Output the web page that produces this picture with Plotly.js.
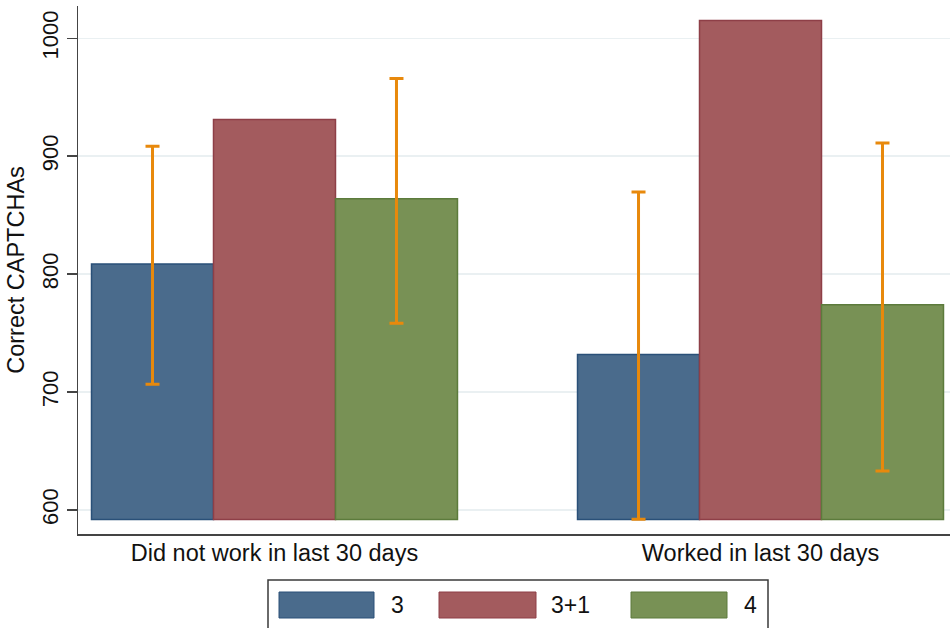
<!DOCTYPE html>
<html>
<head>
<meta charset="utf-8">
<script src="https://cdn.plot.ly/plotly-3.0.1.min.js"></script>
<style>
  html, body { margin: 0; padding: 0; background: #ffffff; }
  #chart { width: 950px; height: 628px; }
</style>
</head>
<body>
<div id="chart"></div>
<script>
// Groups on the x axis and the three conditions
const groups = ['Did not work in last 30 days', 'Worked in last 30 days'];
const seriesNames = ['3', '3+1', '4'];

// Mean correct CAPTCHAs per group
const mean3 = [808.5, 731.8];
const mean3p1 = [931.2, 1015.0];
const mean4 = [864.0, 774.0];

// Confidence interval bounds (no interval shown for 3+1)
const ciHigh3 = [908.5, 869.7];
const ciLow3 = [706.5, 592.2];
const ciHigh4 = [966.0, 911.3];
const ciLow4 = [758.4, 633.0];

const yTicks = [600, 700, 800, 900, 1000];

// Styling
const FONT = 'Liberation Sans, Arial, Helvetica, sans-serif';
const BASE = 592;            // where the bars start on the y axis
const fills = ['#4A6B8C', '#A35B5E', '#789155'];
const edges = ['#2A5078', '#8E3F47', '#5C7B3C'];
const ciColor = '#E8890C';

function barTrace(i, means, hi, lo) {
  const t = {
    type: 'bar',
    name: seriesNames[i],
    x: groups,
    y: means.map(v => v - BASE),
    base: BASE,
    marker: { color: fills[i], line: { color: edges[i], width: 1.5 } },
    showlegend: false,
    hoverinfo: 'skip'
  };
  if (hi && lo) {
    t.error_y = {
      type: 'data',
      symmetric: false,
      array: hi.map((h, k) => h - means[k]),
      arrayminus: lo.map((l, k) => means[k] - l),
      color: ciColor,
      thickness: 3,
      width: 7
    };
  }
  return t;
}

const data = [
  barTrace(0, mean3, ciHigh3, ciLow3),
  barTrace(1, mean3p1, null, null),
  barTrace(2, mean4, ciHigh4, ciLow4)
];

// Plot area in pixels, used to place the legend box below it
const M = { l: 78, r: 0, t: 6, b: 94 };
const W = 950, H = 628;
const plotW = W - M.l - M.r, plotH = H - M.t - M.b;
const px = x => (x - M.l) / plotW;
const py = y => (H - M.b - y) / plotH;

// Stata-style legend: bordered box with wide colour swatches
const legendSwatches = [[279, 374], [439, 536], [631, 727]];
const legendLabelX = [389, 549, 742];
const shapes = [{
  type: 'rect', xref: 'paper', yref: 'paper',
  x0: px(268), x1: px(768), y0: py(580), y1: py(660),
  line: { color: '#3a3a3a', width: 1.5 }, fillcolor: 'rgba(0,0,0,0)'
}];
const annotations = [];
seriesNames.forEach((name, i) => {
  shapes.push({
    type: 'rect', xref: 'paper', yref: 'paper',
    x0: px(legendSwatches[i][0]), x1: px(legendSwatches[i][1]),
    y0: py(618), y1: py(592),
    line: { color: edges[i], width: 1 }, fillcolor: fills[i]
  });
  annotations.push({
    xref: 'paper', yref: 'paper',
    x: px(legendLabelX[i]), y: py(605),
    xanchor: 'left', yanchor: 'middle',
    text: name, showarrow: false,
    font: { family: FONT, size: 23, color: '#111' }
  });
});

const layout = {
  width: W, height: H,
  margin: M,
  paper_bgcolor: '#ffffff',
  plot_bgcolor: '#ffffff',
  barmode: 'group',
  bargap: 0.247,
  bargroupgap: 0,
  showlegend: false,
  font: { family: FONT, size: 23, color: '#111' },
  xaxis: {
    type: 'category',
    range: [-0.4043, 1.3899],
    showline: true, linecolor: '#444', linewidth: 1.5,
    ticks: '', showgrid: false, zeroline: false,
    ticklabelstandoff: -3,
    tickfont: { family: FONT, size: 23.5, color: '#111' }
  },
  yaxis: {
    range: [579.6, 1027.4],
    tickvals: yTicks,
    ticktext: yTicks.map(String),
    tickangle: -90,
    ticks: 'outside', ticklen: 10, tickwidth: 1.5, tickcolor: '#444',
    showline: true, linecolor: '#444', linewidth: 1.5,
    showgrid: true, gridcolor: '#EAF0F2', gridwidth: 1.5,
    zeroline: false,
    tickfont: { family: FONT, size: 22, color: '#111' },
    title: { text: 'Correct CAPTCHAs', font: { family: FONT, size: 23.5, color: '#111' }, standoff: 6 }
  },
  shapes: shapes,
  annotations: annotations
};

Plotly.newPlot('chart', data, layout, { displayModeBar: false, staticPlot: true });
</script>
</body>
</html>
